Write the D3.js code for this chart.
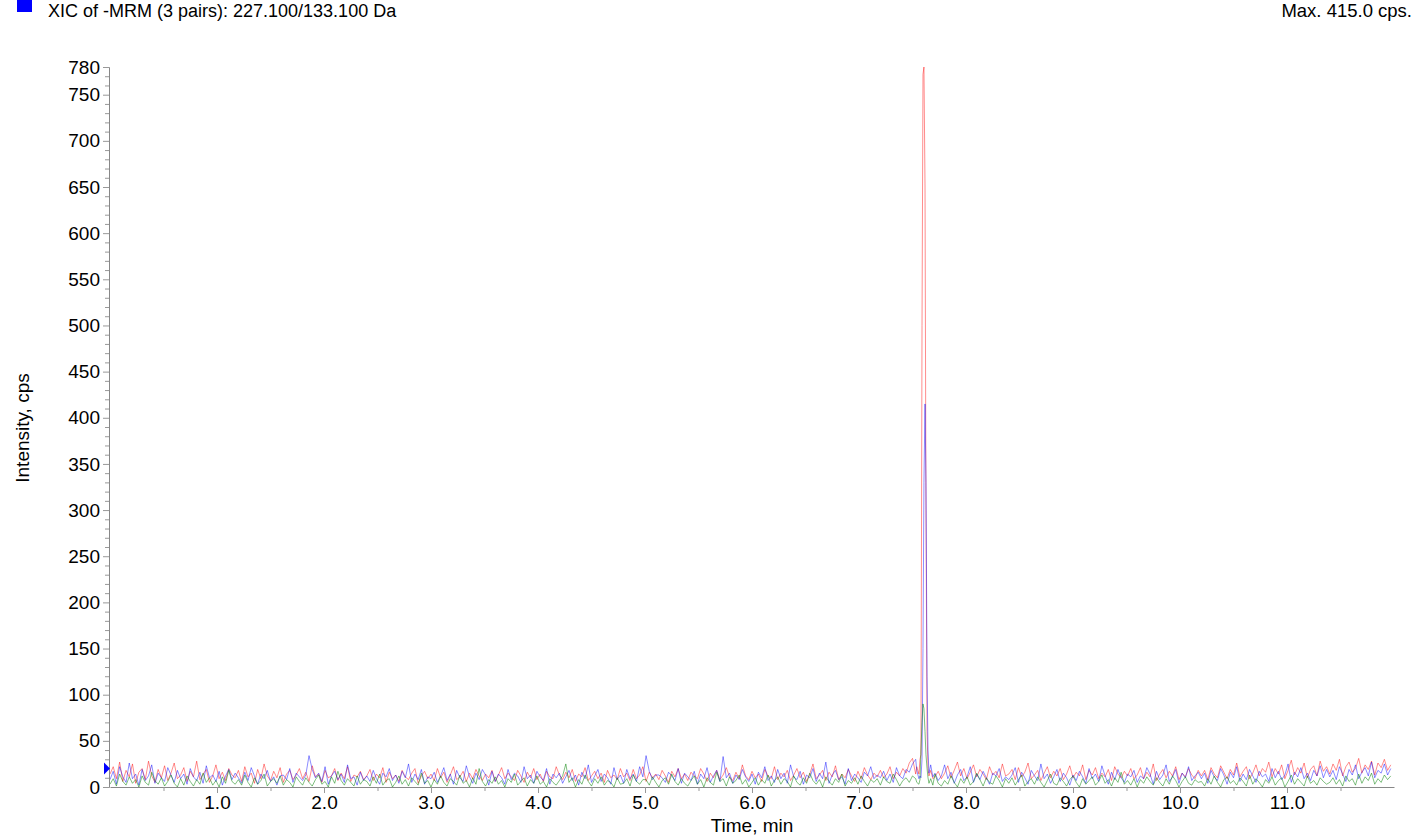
<!DOCTYPE html>
<html>
<head>
<meta charset="utf-8">
<script src="https://cdn.jsdelivr.net/npm/d3@7"></script>
<style>
  body { margin: 0; background: #fff; }
  text { font-family: "Liberation Sans", Arial, sans-serif; fill: #000; }
</style>
</head>
<body>
<svg width="1417" height="838"></svg>
<script>
"use strict";
// baseline noise, one value every 0.03 min (0 .. 11.97)
var dt = 0.03;
var redNoise = [
  14,22,9,27,6,18,11,25,4,16,20,8,28,12,5,19,10,23,7,15,
  26,9,13,21,6,17,11,28,8,14,19,5,12,24,9,16,7,20,13,10,
  18,6,22,11,15,4,19,9,25,12,7,17,10,21,5,14,18,8,13,20,
  9,16,6,23,11,14,5,18,10,12,20,7,15,9,22,6,13,11,17,8,
  12,19,7,14,10,21,5,16,9,13,6,18,11,8,15,20,4,12,17,9,
  14,7,20,10,16,5,13,22,8,11,17,6,15,9,19,12,7,14,10,18,
  6,13,21,9,15,11,7,18,12,5,16,10,20,8,14,6,17,11,9,22,
  13,8,16,10,19,6,14,11,21,7,12,17,9,15,5,18,10,13,8,20,
  11,15,7,19,9,13,22,6,16,10,14,8,18,12,5,17,11,20,9,14,
  7,16,12,9,20,14,6,15,10,18,8,13,21,11,7,16,9,24,12,8,
  17,10,14,6,19,12,9,22,8,15,11,18,7,13,20,10,16,6,14,25,
  9,13,18,7,16,11,23,8,14,10,19,12,6,17,9,21,13,8,15,11,
  18,10,14,22,9,16,12,20,15,26,31,14,20,8,16,12,25,11,17,9,
  15,23,10,18,27,12,20,9,16,24,11,19,14,8,22,13,17,10,25,12,
  14,19,8,21,11,16,26,9,13,18,7,15,22,10,17,12,20,8,14,23,
  10,16,12,24,8,18,13,21,9,15,11,19,7,22,14,10,17,12,20,9,
  13,21,9,16,11,25,7,14,19,10,17,12,22,8,15,11,20,13,9,18,
  12,18,8,21,14,10,23,16,9,19,13,26,11,17,22,9,15,24,12,20,
  16,27,11,20,14,24,9,18,29,13,21,15,26,10,19,23,12,28,17,22,
  14,25,18,30,12,22,27,16,20,31,15,24,19,28,13,26,21,30,18,24
];
var blueNoise = [
  8,17,3,22,11,5,26,9,14,2,19,7,12,24,4,15,10,6,21,13,
  5,18,9,14,3,20,11,7,16,4,23,10,13,6,17,2,12,19,8,15,
  10,4,16,7,21,12,3,14,9,18,6,11,2,12,13,8,20,5,15,11,
  7,13,34,19,10,15,6,22,3,12,17,8,14,5,24,9,11,2,16,7,
  12,6,18,9,3,15,11,20,7,13,4,17,10,25,5,14,8,19,3,11,
  9,16,5,12,21,7,14,3,18,10,6,23,11,4,15,8,19,13,2,17,
  6,14,10,3,19,8,15,12,5,22,9,13,4,17,11,7,20,3,14,10,
  15,4,11,18,7,13,2,16,9,24,5,12,19,6,14,10,3,21,8,13,
  4,19,9,14,6,22,11,34,17,8,13,13,10,5,16,12,7,20,4,15,
  11,7,17,3,14,9,21,5,12,18,6,33,10,15,4,13,8,19,11,6,
  14,3,16,10,22,7,12,5,19,9,15,4,24,11,8,17,3,13,10,20,
  6,15,9,27,4,13,18,8,11,3,20,7,14,10,5,16,12,22,9,13,
  10,17,7,14,5,21,12,9,19,16,25,30,8,13,6,18,10,15,7,12,
  24,9,16,4,13,19,7,11,22,5,14,8,17,10,3,15,12,20,6,11,
  8,13,21,5,16,10,3,18,12,7,25,9,14,4,11,19,6,15,10,2,
  13,7,17,11,4,20,9,14,6,23,12,3,16,8,19,10,5,14,11,18,
  5,12,9,21,14,3,17,8,13,24,6,11,19,4,15,10,22,7,12,16,
  9,15,4,18,11,7,20,13,3,16,10,22,6,14,8,19,12,5,17,11,
  14,6,20,10,17,8,13,25,5,16,11,21,9,15,7,18,12,23,10,19,
  11,18,8,22,14,6,19,13,24,9,16,21,12,27,10,18,15,25,13,20
];
var greenNoise = [
  3,9,1,14,6,2,11,4,8,0,12,5,2,16,7,3,10,1,6,13,
  4,0,9,2,12,6,1,8,3,15,5,10,2,7,0,11,4,18,6,3,
  8,2,13,5,0,10,3,7,14,1,6,9,4,12,2,8,5,0,11,6,
  2,10,5,1,8,13,3,6,0,11,4,17,7,2,9,5,1,12,3,8,
  6,1,11,4,14,2,7,9,0,5,12,3,8,1,10,6,2,15,4,7,
  0,8,3,12,5,1,9,6,2,13,4,7,0,10,3,20,6,1,8,4,
  11,3,7,0,9,5,14,2,6,10,1,8,4,12,3,6,0,9,5,2,
  7,12,25,5,10,0,8,3,13,6,1,9,4,11,2,7,5,0,10,3,
  4,9,1,13,6,3,8,8,2,11,5,0,7,10,3,14,6,2,9,4,
  1,7,12,3,8,0,10,5,2,16,6,9,1,11,4,7,13,3,8,0,
  5,10,2,8,4,13,1,7,11,3,9,6,0,12,5,2,10,4,15,7,
  3,8,0,11,6,2,9,5,14,1,7,4,10,3,12,6,1,8,5,9,
  2,11,6,4,14,8,1,7,10,5,12,9,13,3,6,2,8,14,4,1,
  7,3,12,5,0,9,4,11,2,6,15,8,1,10,5,3,12,7,0,9,
  4,10,2,8,13,1,6,9,3,11,5,0,7,14,4,2,10,6,1,8,
  12,5,0,9,3,7,11,2,6,13,4,8,1,10,5,16,3,7,2,9,
  0,8,4,11,6,2,10,5,1,9,3,12,7,0,6,11,4,2,8,5,
  6,1,9,3,12,5,0,8,11,4,7,2,10,6,1,13,3,9,5,0,
  8,4,11,2,7,10,0,6,13,3,9,5,1,12,4,7,2,10,6,3,
  5,10,3,8,1,12,6,9,2,14,4,11,7,15,3,9,5,13,8,12
];
// the peak around 7.6 min, sampled finer
var peakTimes = [7.540, 7.560, 7.570, 7.579, 7.589, 7.598, 7.607, 7.617, 7.626, 7.636, 7.645, 7.654, 7.670, 7.690];
var redPeak   = [22, 14, 30, 35, 500, 772, 780, 650, 300, 60, 20, 12, 18, 9];
var bluePeak  = [18, 9, 12, 10, 30, 150, 330, 415, 330, 120, 40, 15, 24, 11];
var greenPeak = [5, 3, 8, 40, 70, 90, 85, 60, 35, 20, 10, 4, 9, 2];

var yTickLabels = [0, 50, 100, 150, 200, 250, 300, 350, 400, 450, 500, 550, 600, 650, 700, 750, 780];
var xTickLabels = ["1.0", "2.0", "3.0", "4.0", "5.0", "6.0", "7.0", "8.0", "9.0", "10.0", "11.0"];

var svg = d3.select('svg');
var x = d3.scaleLinear().domain([0, 12]).range([110, 1394]);
var y = d3.scaleLinear().domain([0, 780]).range([787, 67]);

function series(noise, peak) {
  var pts = [];
  noise.forEach(function (v, i) {
    var t = i * dt;
    if (t < peakTimes[0] - 0.005 || t > peakTimes[peakTimes.length - 1] + 0.005) pts.push([t, v]);
  });
  peak.forEach(function (v, i) { pts.push([peakTimes[i], v]); });
  return pts.sort(function (a, b) { return a[0] - b[0]; });
}

var line = d3.line().x(function (d) { return x(d[0]); }).y(function (d) { return y(d[1]); });

var traces = [
  { data: series(redNoise, redPeak), color: '#ff0000', op: 0.45 },
  { data: series(blueNoise, bluePeak), color: '#0000ff', op: 0.45 },
  { data: series(greenNoise, greenPeak), color: '#008000', op: 0.5 }
];
svg.append('g').selectAll('path').data(traces).enter().append('path')
  .attr('d', function (d) { return line(d.data); })
  .attr('fill', 'none')
  .attr('stroke', function (d) { return d.color; })
  .attr('stroke-opacity', function (d) { return d.op; })
  .attr('stroke-width', 1);

// y axis: minor ticks every 10, labels from list
var yAxis = svg.append('g').attr('transform', 'translate(109,0)')
  .call(d3.axisLeft(y).tickValues(d3.range(0, 781, 10)).tickSize(4)
    .tickFormat(function (d) { return yTickLabels.indexOf(d) >= 0 ? d : ''; }));
yAxis.select('.domain').attr('stroke', '#888');
yAxis.selectAll('.tick line').attr('stroke', '#999')
  .attr('x2', function (d) { return yTickLabels.indexOf(d) >= 0 ? -6 : -4; });
yAxis.selectAll('.tick text').attr('x', -9).style('font-size', '19px').style('font-family', '"Liberation Sans", Arial, sans-serif');

// x axis: ticks every half minute
var xAxis = svg.append('g').attr('transform', 'translate(0,787)')
  .call(d3.axisBottom(x).tickValues(d3.range(0.5, 12, 0.5)).tickSize(5).tickSizeOuter(0)
    .tickFormat(function (d) { return d % 1 === 0 ? xTickLabels[d - 1] : ''; }));
xAxis.select('.domain').attr('stroke', '#888');
xAxis.selectAll('.tick line').attr('stroke', '#999')
  .attr('y2', function (d) { return d % 1 === 0 ? 6 : 4; });
xAxis.selectAll('.tick text').attr('y', 9).style('font-size', '19px').style('font-family', '"Liberation Sans", Arial, sans-serif');

// marker on the left edge
svg.append('path')
  .attr('d', 'M104,' + (y(20) - 6) + 'L110,' + y(20) + 'L104,' + (y(20) + 6) + 'Z')
  .attr('fill', '#0000ff');

// header
svg.append('rect').attr('x', 17).attr('y', -2).attr('width', 15).attr('height', 14).attr('fill', '#0000ff');
svg.append('text').attr('x', 48).attr('y', 17).style('font-size', '18px')
  .text('XIC of -MRM (3 pairs): 227.100/133.100 Da');
svg.append('text').attr('x', 1412).attr('y', 17).attr('text-anchor', 'end').style('font-size', '18.5px')
  .text('Max. 415.0 cps.');

// axis titles
svg.append('text').attr('transform', 'translate(29,428) rotate(-90)').attr('text-anchor', 'middle')
  .style('font-size', '19px').text('Intensity, cps');
svg.append('text').attr('x', 752).attr('y', 832).attr('text-anchor', 'middle')
  .style('font-size', '19px').text('Time, min');
</script>
</body>
</html>
